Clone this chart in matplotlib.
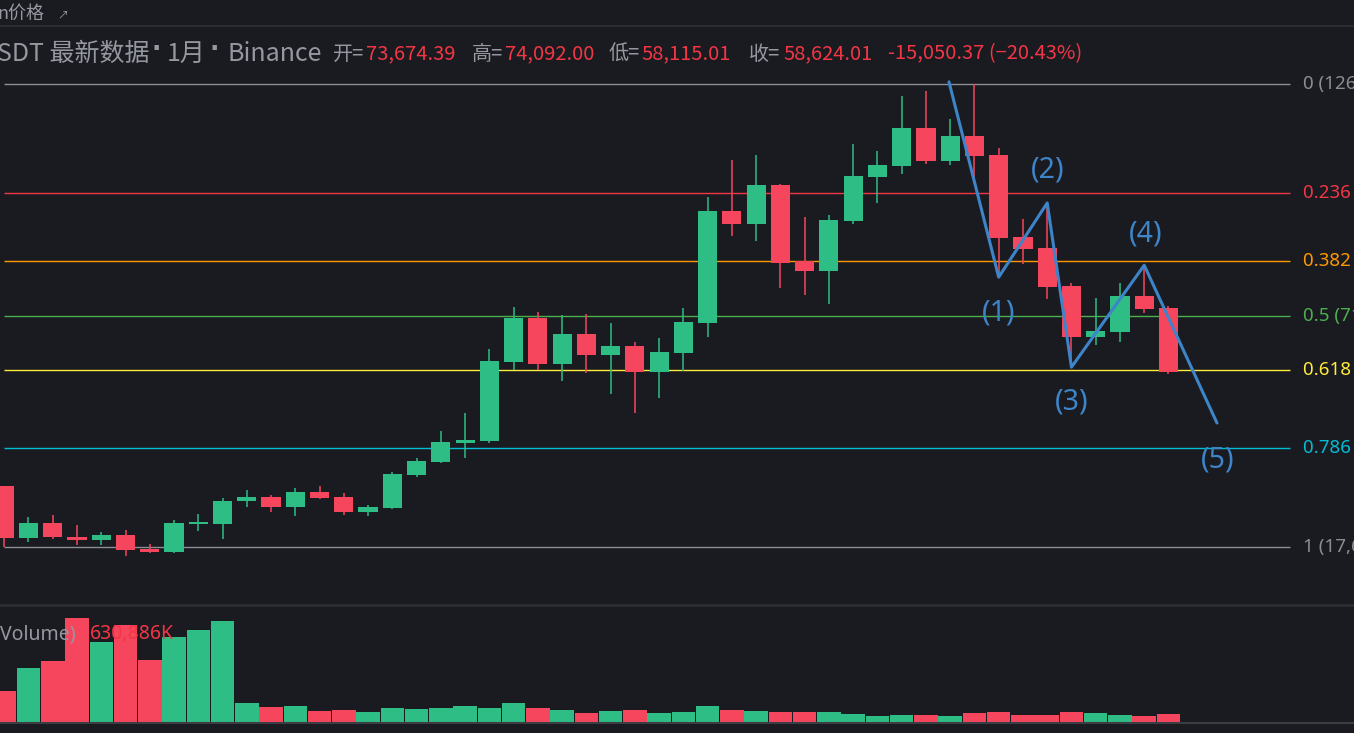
import matplotlib
matplotlib.use('Agg')
import matplotlib.pyplot as plt
from matplotlib.lines import Line2D

# Velas mensais (USDT, em milhares), da esquerda para a direita
opens = [31.9, 19.8, 23.2, 19.9, 19.3, 20.4, 17.1, 16.4, 23.1, 23.1,
         28.3, 29.3, 27.1, 30.5, 29.3, 25.9, 26.8, 34.5, 37.5, 42.0,
         42.5, 61.1, 71.3, 60.6, 67.6, 62.7, 64.8, 58.7, 63.2, 70.2,
         96.4, 93.4, 102.5, 84.7, 82.3, 94.1, 104.4, 107.0, 115.9, 108.1,
         114.0, 109.6, 90.3, 87.7, 78.8, 66.9, 68.0, 76.5, 73.67439]
highs = [32.0, 24.6, 25.1, 22.8, 21.2, 21.6, 18.3, 23.9, 25.3, 29.0,
         31.0, 29.8, 31.4, 31.9, 30.3, 27.5, 35.2, 38.5, 44.8, 49.0,
         64.0, 73.9, 72.7, 72.0, 72.3, 70.1, 65.7, 66.6, 73.7, 99.7,
         108.4, 109.6, 102.7, 95.0, 95.5, 112.1, 110.5, 123.4, 124.6, 118.0,
         126.2, 111.2, 94.5, 98.3, 79.5, 76.0, 79.5, 83.5, 74.092]
lows = [17.6, 18.8, 19.6, 18.1, 18.1, 15.4, 16.2, 16.3, 21.4, 19.6,
        27.0, 25.9, 24.9, 28.9, 25.2, 24.9, 26.6, 34.1, 37.3, 38.5,
        42.1, 59.1, 59.1, 56.5, 58.5, 53.5, 49.0, 52.6, 59.0, 66.9,
        90.6, 89.4, 78.4, 76.7, 74.6, 93.4, 98.3, 105.1, 107.4, 107.2,
        103.5, 80.9, 84.0, 75.8, 59.8, 65.0, 65.7, 72.5, 58.11501]
closes = [19.8, 23.2, 19.9, 19.3, 20.4, 17.0, 16.4, 23.2, 23.3, 28.4,
          29.3, 27.1, 30.5, 29.1, 25.9, 27.0, 34.7, 37.8, 42.2, 42.7,
          61.2, 71.3, 60.6, 67.6, 62.7, 64.8, 58.7, 63.3, 70.4, 96.4,
          93.4, 102.5, 84.2, 82.3, 94.3, 104.6, 107.2, 115.9, 108.1, 114.0,
          109.3, 90.1, 87.5, 78.6, 66.9, 68.3, 76.5, 73.4, 58.62401]
# Volume (K)
volumes = [775, 1350, 1525, 2600, 2000, 2425, 1550, 2125, 2300, 2525,
           475, 375, 400, 275, 300, 250, 350, 325, 350, 400,
           350, 475, 350, 300, 225, 275, 300, 225, 250, 400,
           300, 275, 250, 250, 250, 200, 150, 175, 175, 150,
           225, 250, 175, 175, 250, 225, 175, 150, 200]

# Fibonacci
fib_high = 126.19963
fib_low = 17.622
fib_levels = [0, 0.236, 0.382, 0.5, 0.618, 0.786, 1]
fib_colors = ['#8b8d94', '#f23645', '#ff9800', '#4caf50', '#ffeb3b', '#00bcd4', '#8b8d94']

# Ondas de Elliott desenhadas à mão
wave_x = [38.95, 41.0, 43.0, 44.0, 47.0, 50.0]
wave_y = [126.7, 80.9, 98.3, 59.8, 83.7, 46.7]
wave_labels = ['(1)', '(2)', '(3)', '(4)', '(5)']
wave_lx = [41.0, 43.03, 44.02, 47.07, 50.04]
wave_ly = [72.5, 106.0, 51.6, 91.0, 38.0]

BG = '#1a1b20'
GREEN = '#2ebd85'
RED = '#f6465d'
TXT_RED = '#f23645'
GRAY = '#9598a1'
BLUE = '#3d84c8'
CJK = ['Noto Sans CJK SC', 'DejaVu Sans']

W, H = 1354, 733
fig = plt.figure(figsize=(W / 100, H / 100), dpi=100)
fig.patch.set_facecolor(BG)


def fx(px):
    return px / W


def fy(py):
    return 1 - py / H


def price_at(py):
    # escala linear: nível 0 em y=84, nível 1 em y=547
    return fib_high - (py - 84) / (463 / (fib_high - fib_low))


x_left = -4.245 / 24.255
x_right = (W - 4.245) / 24.255

# ---- painel de preço ----
ax = fig.add_axes([0, fy(604), 1, (604 - 62) / H])
ax.set_facecolor(BG)
ax.set_xlim(x_left, x_right)
ax.set_ylim(price_at(604), price_at(62))
ax.axis('off')

n = len(opens)
xs = list(range(n))
colors = [GREEN if c >= o else RED for o, c in zip(opens, closes)]

for lvl, col in zip(fib_levels, fib_colors):
    p = fib_high - lvl * (fib_high - fib_low)
    ax.hlines(p, 0, 53.0, color=col, lw=1.0, zorder=1)
    lab = f'{lvl:g} ({p * 1000:,.2f})'
    ax.text(53.55, p, lab, color=col, fontsize=13.5, va='center', ha='left',
            family='Noto Sans', fontweight='bold' if lvl == 0.618 else 'normal',
            clip_on=False)

ax.vlines(xs, lows, highs, colors=colors, lw=1.1, zorder=2)
bottoms = [min(o, c) for o, c in zip(opens, closes)]
heights = [max(abs(c - o), 0.4) for o, c in zip(opens, closes)]
ax.bar(xs, heights, bottom=bottoms, width=0.79, color=colors, zorder=3)

ax.plot(wave_x, wave_y, color=BLUE, lw=2.2, zorder=5, solid_capstyle='round')
for lab, lx, ly in zip(wave_labels, wave_lx, wave_ly):
    ax.text(lx, ly, lab, color=BLUE, fontsize=20.5, ha='center', va='center',
            family='Noto Sans', zorder=6)

# ---- painel de volume ----
axv = fig.add_axes([0, fy(722), 1, (722 - 605) / H])
axv.set_facecolor(BG)
axv.set_xlim(x_left, x_right)
axv.set_ylim(0, 117 * 25)
axv.axis('off')
axv.bar(xs, volumes, width=0.97, color=colors, zorder=2)
axv.text(0.0, 0.75, 'Volume)', transform=axv.transAxes, color=GRAY, fontsize=14,
         va='center', ha='left', family='Noto Sans', zorder=4)
axv.text(fx(90), 0.75, '630,886K', transform=axv.transAxes, color=TXT_RED, fontsize=14,
         va='center', ha='left', family='Noto Sans', zorder=4)

# separadores
fig.add_artist(Line2D([0, 1], [fy(605), fy(605)], color='#2e3036', lw=1.8))
fig.add_artist(Line2D([0, 1], [fy(722.5), fy(722.5)], color='#3b3d43', lw=1.5))
fig.add_artist(Line2D([0, 1], [fy(26), fy(26)], color='#2e3036', lw=1.2))

# ---- cabeçalho ----
fig.text(fx(-3), fy(14), 'n价格', color=GRAY, fontsize=13, va='center', family=CJK)
fig.text(fx(57), fy(15), '↗', color=GRAY, fontsize=8, va='center', family=CJK)

y_h = fy(54)
fig.text(fx(-3), y_h, 'SDT 最新数据', color=GRAY, fontsize=18, va='center', family=CJK)
fig.text(fx(151), fy(49), '·', color=GRAY, fontsize=18, va='center', family='DejaVu Sans',
         fontweight='bold')
fig.text(fx(167), y_h, '1月', color=GRAY, fontsize=18, va='center', family=CJK)
fig.text(fx(210), fy(49), '·', color=GRAY, fontsize=18, va='center', family='DejaVu Sans',
         fontweight='bold')
fig.text(fx(227), y_h, 'Binance', color=GRAY, fontsize=18, va='center', family=CJK)

parts = [(333, '开=', GRAY), (366, '73,674.39', TXT_RED),
         (472, '高=', GRAY), (505, '74,092.00', TXT_RED),
         (609, '低=', GRAY), (641, '58,115.01', TXT_RED),
         (749, '收=', GRAY), (783, '58,624.01', TXT_RED),
         (888, '-15,050.37 (−20.43%)', TXT_RED)]
for px, s, col in parts:
    fig.text(fx(px), y_h, s, color=col, fontsize=14.5, va='center', family=CJK)

fig.savefig('out.png', dpi=100, facecolor=BG)
